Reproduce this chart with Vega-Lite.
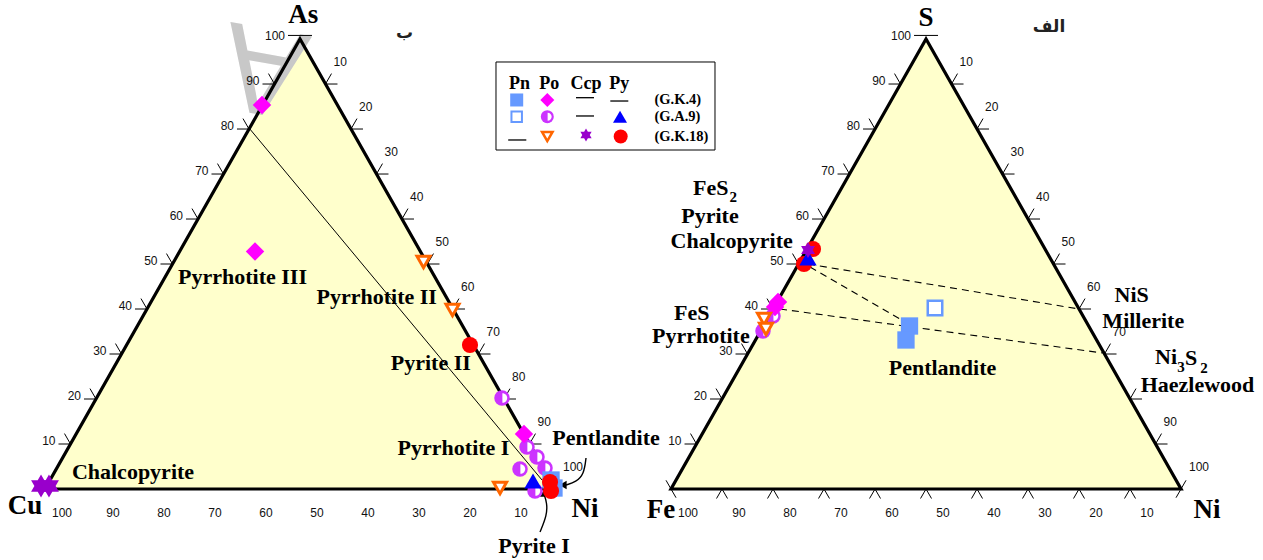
{
  "$schema": "https://vega.github.io/schema/vega-lite/v6.json",
  "width": 1263,
  "height": 560,
  "padding": 0,
  "autosize": {"type": "none"},
  "background": "#ffffff",
  "config": {"view": {"stroke": null}},
  "encoding": {
    "x": {"field": "x", "type": "quantitative", "axis": null, "scale": {"domain": [-8.8235, 238.8235], "nice": false, "zero": false}},
    "y": {"field": "y", "type": "quantitative", "axis": null, "scale": {"domain": [-13.664, 94.111], "nice": false, "zero": false}}
  },
  "datasets": {
    "triFill": [
      {"t": "L", "x": 0, "y": 0}, {"t": "L", "x": 50, "y": 86.6}, {"t": "L", "x": 100, "y": 0},
      {"t": "R", "x": 122.75, "y": 0}, {"t": "R", "x": 172.75, "y": 86.6}, {"t": "R", "x": 222.75, "y": 0}
    ],
    "triEdge": [
      {"t": "L", "o": 0, "x": 0, "y": 0}, {"t": "L", "o": 1, "x": 100, "y": 0}, {"t": "L", "o": 2, "x": 50, "y": 86.6}, {"t": "L", "o": 3, "x": 0, "y": 0}, {"t": "L", "o": 4, "x": 100, "y": 0},
      {"t": "R", "o": 0, "x": 122.75, "y": 0}, {"t": "R", "o": 1, "x": 222.75, "y": 0}, {"t": "R", "o": 2, "x": 172.75, "y": 86.6}, {"t": "R", "o": 3, "x": 122.75, "y": 0}, {"t": "R", "o": 4, "x": 222.75, "y": 0}
    ],
    "segs": [
      {"g": "m", "k": "solid", "o": 0, "x": 40.0, "y": 69.48}, {"g": "m", "k": "solid", "o": 1, "x": 97.45, "y": 1.73},
      {"g": "d1", "k": "dash", "o": 0, "x": 149.61, "y": 43.3}, {"g": "d1", "k": "dash", "o": 1, "x": 202.75, "y": 34.64},
      {"g": "d2", "k": "dash", "o": 0, "x": 150.0, "y": 42.73}, {"g": "d2", "k": "dash", "o": 1, "x": 168.63, "y": 32.14},
      {"g": "d3", "k": "dash", "o": 0, "x": 144.12, "y": 34.64}, {"g": "d3", "k": "dash", "o": 1, "x": 207.4, "y": 26.17}
    ],
    "ticks": [
      {"k": "l", "x": 5, "y": 8.66}, {"k": "l", "x": 10, "y": 17.32}, {"k": "l", "x": 15, "y": 25.98}, {"k": "l", "x": 20, "y": 34.64}, {"k": "l", "x": 25, "y": 43.3}, {"k": "l", "x": 30, "y": 51.96}, {"k": "l", "x": 35, "y": 60.62}, {"k": "l", "x": 40, "y": 69.28}, {"k": "l", "x": 45, "y": 77.94},
      {"k": "r", "x": 55, "y": 77.94}, {"k": "r", "x": 60, "y": 69.28}, {"k": "r", "x": 65, "y": 60.62}, {"k": "r", "x": 70, "y": 51.96}, {"k": "r", "x": 75, "y": 43.3}, {"k": "r", "x": 80, "y": 34.64}, {"k": "r", "x": 85, "y": 25.98}, {"k": "r", "x": 90, "y": 17.32}, {"k": "r", "x": 95, "y": 8.66},
      {"k": "l", "x": 127.75, "y": 8.66}, {"k": "l", "x": 132.75, "y": 17.32}, {"k": "l", "x": 137.75, "y": 25.98}, {"k": "l", "x": 142.75, "y": 34.64}, {"k": "l", "x": 147.75, "y": 43.3}, {"k": "l", "x": 152.75, "y": 51.96}, {"k": "l", "x": 157.75, "y": 60.62}, {"k": "l", "x": 162.75, "y": 69.28}, {"k": "l", "x": 167.75, "y": 77.94},
      {"k": "r", "x": 177.75, "y": 77.94}, {"k": "r", "x": 182.75, "y": 69.28}, {"k": "r", "x": 187.75, "y": 60.62}, {"k": "r", "x": 192.75, "y": 51.96}, {"k": "r", "x": 197.75, "y": 43.3}, {"k": "r", "x": 202.75, "y": 34.64}, {"k": "r", "x": 207.75, "y": 25.98}, {"k": "r", "x": 212.75, "y": 17.32}, {"k": "r", "x": 217.75, "y": 8.66},
      {"k": "b", "x": 132.75, "y": 0}, {"k": "b", "x": 142.75, "y": 0}, {"k": "b", "x": 152.75, "y": 0}, {"k": "b", "x": 162.75, "y": 0}, {"k": "b", "x": 172.75, "y": 0}, {"k": "b", "x": 182.75, "y": 0}, {"k": "b", "x": 192.75, "y": 0}, {"k": "b", "x": 202.75, "y": 0}, {"k": "b", "x": 212.75, "y": 0},
      {"k": "a", "x": 50, "y": 86.6}, {"k": "a", "x": 172.75, "y": 86.6},
      {"k": "c1", "x": 122.75, "y": 0}, {"k": "c2", "x": 222.75, "y": 0}
    ],
    "tlabels": [
      {"k": "l", "text": "10", "x": 5, "y": 8.66}, {"k": "l", "text": "20", "x": 10, "y": 17.32}, {"k": "l", "text": "30", "x": 15, "y": 25.98}, {"k": "l", "text": "40", "x": 20, "y": 34.64}, {"k": "l", "text": "50", "x": 25, "y": 43.3}, {"k": "l", "text": "60", "x": 30, "y": 51.96}, {"k": "l", "text": "70", "x": 35, "y": 60.62}, {"k": "l", "text": "80", "x": 40, "y": 69.28}, {"k": "l", "text": "90", "x": 45, "y": 77.94}, {"k": "l", "text": "100", "x": 50, "y": 86.6},
      {"k": "r", "text": "10", "x": 55, "y": 77.94}, {"k": "r", "text": "20", "x": 60, "y": 69.28}, {"k": "r", "text": "30", "x": 65, "y": 60.62}, {"k": "r", "text": "40", "x": 70, "y": 51.96}, {"k": "r", "text": "50", "x": 75, "y": 43.3}, {"k": "r", "text": "60", "x": 80, "y": 34.64}, {"k": "r", "text": "70", "x": 85, "y": 25.98}, {"k": "r", "text": "80", "x": 90, "y": 17.32}, {"k": "r", "text": "90", "x": 95, "y": 8.66}, {"k": "r", "text": "100", "x": 100, "y": 0},
      {"k": "b", "text": "100", "x": 0, "y": 0}, {"k": "b", "text": "90", "x": 10, "y": 0}, {"k": "b", "text": "80", "x": 20, "y": 0}, {"k": "b", "text": "70", "x": 30, "y": 0}, {"k": "b", "text": "60", "x": 40, "y": 0}, {"k": "b", "text": "50", "x": 50, "y": 0}, {"k": "b", "text": "40", "x": 60, "y": 0}, {"k": "b", "text": "30", "x": 70, "y": 0}, {"k": "b", "text": "20", "x": 80, "y": 0}, {"k": "b", "text": "10", "x": 90, "y": 0},
      {"k": "l", "text": "10", "x": 127.75, "y": 8.66}, {"k": "l", "text": "20", "x": 132.75, "y": 17.32}, {"k": "l", "text": "30", "x": 137.75, "y": 25.98}, {"k": "l", "text": "40", "x": 142.75, "y": 34.64}, {"k": "l", "text": "50", "x": 147.75, "y": 43.3}, {"k": "l", "text": "60", "x": 152.75, "y": 51.96}, {"k": "l", "text": "70", "x": 157.75, "y": 60.62}, {"k": "l", "text": "80", "x": 162.75, "y": 69.28}, {"k": "l", "text": "90", "x": 167.75, "y": 77.94}, {"k": "l", "text": "100", "x": 172.75, "y": 86.6},
      {"k": "r", "text": "10", "x": 177.75, "y": 77.94}, {"k": "r", "text": "20", "x": 182.75, "y": 69.28}, {"k": "r", "text": "30", "x": 187.75, "y": 60.62}, {"k": "r", "text": "40", "x": 192.75, "y": 51.96}, {"k": "r", "text": "50", "x": 197.75, "y": 43.3}, {"k": "r", "text": "60", "x": 202.75, "y": 34.64}, {"k": "r", "text": "70", "x": 207.75, "y": 25.98}, {"k": "r", "text": "90", "x": 217.75, "y": 8.66}, {"k": "r", "text": "100", "x": 222.75, "y": 0},
      {"k": "b", "text": "100", "x": 122.75, "y": 0}, {"k": "b", "text": "90", "x": 132.75, "y": 0}, {"k": "b", "text": "80", "x": 142.75, "y": 0}, {"k": "b", "text": "70", "x": 152.75, "y": 0}, {"k": "b", "text": "60", "x": 162.75, "y": 0}, {"k": "b", "text": "50", "x": 172.75, "y": 0}, {"k": "b", "text": "40", "x": 182.75, "y": 0}, {"k": "b", "text": "30", "x": 192.75, "y": 0}, {"k": "b", "text": "20", "x": 202.75, "y": 0}, {"k": "b", "text": "10", "x": 212.75, "y": 0}
    ],
    "arrows": [
      {"g": "a1", "o": 0, "x": 106.08, "y": 5.97}, {"g": "a1", "o": 1, "x": 105.69, "y": 2.89}, {"g": "a1", "o": 2, "x": 104.12, "y": 1.35}, {"g": "a1", "o": 3, "x": 102.16, "y": 0.77},
      {"g": "a2", "o": 0, "x": 97.06, "y": -8.28}, {"g": "a2", "o": 1, "x": 98.43, "y": -5.0}, {"g": "a2", "o": 2, "x": 98.43, "y": -2.69}, {"g": "a2", "o": 3, "x": 97.84, "y": -0.96}
    ],
    "heads": [
      {"k": "left", "x": 101.57, "y": 0.77},
      {"k": "up", "x": 97.84, "y": -0.77}
    ],
    "pts": [
      {"t": "L", "sym": "poH", "x": 89.61, "y": 17.51}, {"t": "L", "sym": "poH", "x": 94.51, "y": 8.08}, {"t": "L", "sym": "poH", "x": 96.47, "y": 6.16}, {"t": "L", "sym": "poH", "x": 93.14, "y": 3.85}, {"t": "L", "sym": "poH", "x": 98.04, "y": 4.04}, {"t": "L", "sym": "poH", "x": 96.08, "y": -0.38},
      {"t": "L", "sym": "poD", "x": 42.55, "y": 73.9}, {"t": "L", "sym": "poD", "x": 41.18, "y": 45.71}, {"t": "L", "sym": "poD", "x": 93.92, "y": 10.59},
      {"t": "L", "sym": "poT", "x": 74.22, "y": 43.69}, {"t": "L", "sym": "poT", "x": 79.9, "y": 34.45}, {"t": "L", "sym": "poT", "x": 89.22, "y": 0.19},
      {"t": "L", "sym": "pnF", "x": 99.22, "y": 1.73}, {"t": "L", "sym": "pnF", "x": 99.8, "y": 0.19},
      {"t": "L", "sym": "pyC", "x": 83.33, "y": 27.71}, {"t": "L", "sym": "pyC", "x": 99.02, "y": 1.35}, {"t": "L", "sym": "pyC", "x": 99.22, "y": -0.38},
      {"t": "L", "sym": "pyT", "x": 95.69, "y": 1.54},
      {"t": "L", "sym": "ccS", "x": -0.78, "y": 0.58}, {"t": "L", "sym": "ccS", "x": 0.78, "y": 0.58},
      {"t": "R", "sym": "poH", "x": 142.75, "y": 33.29}, {"t": "R", "sym": "poH", "x": 140.78, "y": 30.41},
      {"t": "R", "sym": "poD", "x": 143.73, "y": 35.99}, {"t": "R", "sym": "poD", "x": 143.14, "y": 35.03},
      {"t": "R", "sym": "poT", "x": 140.98, "y": 32.72}, {"t": "R", "sym": "poT", "x": 141.37, "y": 30.79},
      {"t": "R", "sym": "pnF", "x": 169.51, "y": 31.37}, {"t": "R", "sym": "pnF", "x": 168.82, "y": 28.68},
      {"t": "R", "sym": "pnO", "x": 174.51, "y": 34.83},
      {"t": "R", "sym": "pyC", "x": 150.59, "y": 46.19}, {"t": "R", "sym": "pyC", "x": 148.82, "y": 43.3},
      {"t": "R", "sym": "pyT", "x": 149.61, "y": 44.46},
      {"t": "R", "sym": "ccS", "x": 149.61, "y": 46.0}
    ],
    "legBox": [{"x": 88.43, "x2": 131.37, "y": 82.18, "y2": 65.24}],
    "legText": [
      {"k": "h", "text": "Pn", "x": 93.04, "y": 77.94}, {"k": "h", "text": "Po", "x": 98.88, "y": 77.94}, {"k": "h", "text": "Ccp", "x": 106.08, "y": 77.94}, {"k": "h", "text": "Py", "x": 112.61, "y": 77.94},
      {"k": "s", "text": "(G.K.4)", "x": 119.5, "y": 74.87}, {"k": "s", "text": "(G.A.9)", "x": 119.5, "y": 71.65}, {"k": "s", "text": "(G.K.18)", "x": 119.5, "y": 67.84}
    ],
    "leg": [
      {"sym": "pnF", "x": 92.49, "y": 74.87}, {"sym": "poD", "x": 98.49, "y": 74.87}, {"sym": "dash", "x": 105.88, "y": 75.31}, {"sym": "dash", "x": 112.61, "y": 74.67},
      {"sym": "pnO", "x": 92.49, "y": 71.65}, {"sym": "poH", "x": 98.49, "y": 71.65}, {"sym": "dash", "x": 105.88, "y": 71.79}, {"sym": "pyT", "x": 112.75, "y": 71.65},
      {"sym": "dash", "x": 92.61, "y": 67.17}, {"sym": "poT", "x": 98.49, "y": 67.84}, {"sym": "ccS", "x": 106.08, "y": 68.13}, {"sym": "pyC", "x": 112.88, "y": 67.84}
    ],
    "names": [
      {"k": "big", "text": "As", "x": 50.65, "y": 91.2},
      {"k": "big", "text": "S", "x": 172.75, "y": 90.65},
      {"k": "big", "text": "Cu", "x": -3.92, "y": -3.27},
      {"k": "big", "text": "Ni", "x": 105.88, "y": -3.85},
      {"k": "big", "text": "Fe", "x": 120.78, "y": -4.04},
      {"k": "big", "text": "Ni", "x": 227.84, "y": -4.04},
      {"k": "mid", "text": "Chalcopyrite", "x": 17.25, "y": 3.33},
      {"k": "mid", "text": "Pyrrhotite III", "x": 38.73, "y": 40.86},
      {"k": "mid", "text": "Pyrrhotite II", "x": 65.04, "y": 37.01},
      {"k": "mid", "text": "Pyrite II", "x": 75.65, "y": 24.31},
      {"k": "mid", "text": "Pyrrhotite I", "x": 80.1, "y": 7.83},
      {"k": "mid", "text": "Pentlandite", "x": 110.0, "y": 9.76},
      {"k": "mid", "text": "Pyrite I", "x": 95.88, "y": -11.0},
      {"k": "mid", "text": "FeS", "x": 130.55, "y": 57.87},
      {"k": "mid", "text": "Pyrite", "x": 130.39, "y": 52.6},
      {"k": "mid", "text": "Chalcopyrite", "x": 134.65, "y": 47.79},
      {"k": "mid", "text": "FeS", "x": 126.8, "y": 33.93},
      {"k": "mid", "text": "Pyrrhotite", "x": 128.59, "y": 29.5},
      {"k": "mid", "text": "NiS", "x": 213.08, "y": 37.34},
      {"k": "mid", "text": "Millerite", "x": 215.35, "y": 32.4},
      {"k": "mid", "text": "Haezlewood", "x": 225.98, "y": 20.02},
      {"k": "mid", "text": "Pentlandite", "x": 175.98, "y": 23.23},
      {"k": "midL", "text": "Ni", "x": 217.65, "y": 25.35},
      {"k": "midL", "text": "S", "x": 223.53, "y": 25.19},
      {"k": "sub", "text": "2", "x": 134.96, "y": 56.15},
      {"k": "sub", "text": "3", "x": 222.75, "y": 23.54},
      {"k": "sub", "text": "2", "x": 227.25, "y": 23.21},
      {"k": "ar", "text": "ب", "x": 70.5, "y": 87.8},
      {"k": "ar", "text": "الف", "x": 196.86, "y": 88.91}
    ],
    "wm": [{"text": "A", "x": 44.37, "y": 88.47}]
  },
  "layer": [
    {"data": {"name": "triFill"}, "mark": {"type": "area", "fill": "#FFFFCC", "opacity": 1}, "encoding": {"y2": {"datum": 0}, "detail": {"field": "t"}}},
    {"data": {"name": "wm"}, "mark": {"type": "text", "font": "Liberation Sans", "fontSize": 125, "fill": "#C8C8C8", "angle": 190, "align": "center", "baseline": "alphabetic"}, "encoding": {"text": {"field": "text"}}},
    {"data": {"name": "triEdge"}, "mark": {"type": "line", "stroke": "#000000", "strokeWidth": 3.2, "strokeJoin": "miter"}, "encoding": {"detail": {"field": "t"}, "order": {"field": "o"}}},
    {"data": {"name": "segs"}, "transform": [{"filter": "datum.k === 'solid'"}], "mark": {"type": "line", "stroke": "#000000", "strokeWidth": 1}, "encoding": {"detail": {"field": "g"}, "order": {"field": "o"}}},
    {"data": {"name": "segs"}, "transform": [{"filter": "datum.k === 'dash'"}], "mark": {"type": "line", "stroke": "#000000", "strokeWidth": 1.1, "strokeDash": [7, 5]}, "encoding": {"detail": {"field": "g"}, "order": {"field": "o"}}},
    {"data": {"name": "ticks"}, "transform": [{"filter": "datum.k === 'l'"}], "mark": {"type": "point", "shape": "M0,0L-1,0M0,0L-0.5,-0.87", "size": 576, "filled": false, "stroke": "#000000", "strokeWidth": 1, "opacity": 1}},
    {"data": {"name": "ticks"}, "transform": [{"filter": "datum.k === 'r'"}], "mark": {"type": "point", "shape": "M0,0L1,0M0,0L0.5,-0.87", "size": 576, "filled": false, "stroke": "#000000", "strokeWidth": 1, "opacity": 1}},
    {"data": {"name": "ticks"}, "transform": [{"filter": "datum.k === 'b'"}], "mark": {"type": "point", "shape": "M-0.55,0.95L0,0L0.55,0.95", "size": 400, "filled": false, "stroke": "#000000", "strokeWidth": 1, "opacity": 1}},
    {"data": {"name": "ticks"}, "transform": [{"filter": "datum.k === 'a'"}], "mark": {"type": "point", "shape": "M-1,-0.3L1,-0.3", "size": 576, "filled": false, "stroke": "#000000", "strokeWidth": 1, "opacity": 1}},
    {"data": {"name": "ticks"}, "transform": [{"filter": "datum.k === 'c1'"}], "mark": {"type": "point", "shape": "M-0.5,-0.87L0.5,0.87", "size": 400, "filled": false, "stroke": "#000000", "strokeWidth": 1, "opacity": 1}},
    {"data": {"name": "ticks"}, "transform": [{"filter": "datum.k === 'c2'"}], "mark": {"type": "point", "shape": "M0.5,-0.87L-0.5,0.87", "size": 400, "filled": false, "stroke": "#000000", "strokeWidth": 1, "opacity": 1}},
    {"data": {"name": "tlabels"}, "transform": [{"filter": "datum.k === 'l'"}], "mark": {"type": "text", "font": "Liberation Sans", "fontSize": 12, "fill": "#111111", "align": "right", "baseline": "middle", "dx": -15, "dy": -3}, "encoding": {"text": {"field": "text"}}},
    {"data": {"name": "tlabels"}, "transform": [{"filter": "datum.k === 'r'"}], "mark": {"type": "text", "font": "Liberation Sans", "fontSize": 12, "fill": "#111111", "align": "left", "baseline": "middle", "dx": 8, "dy": -22}, "encoding": {"text": {"field": "text"}}},
    {"data": {"name": "tlabels"}, "transform": [{"filter": "datum.k === 'b'"}], "mark": {"type": "text", "font": "Liberation Sans", "fontSize": 12, "fill": "#111111", "align": "center", "baseline": "middle", "dx": 17, "dy": 24}, "encoding": {"text": {"field": "text"}}},
    {"data": {"name": "arrows"}, "mark": {"type": "line", "stroke": "#000000", "strokeWidth": 1.4, "interpolate": "basis"}, "encoding": {"detail": {"field": "g"}, "order": {"field": "o"}}},
    {"data": {"name": "heads"}, "transform": [{"filter": "datum.k === 'left'"}], "mark": {"type": "point", "shape": "triangle-left", "size": 70, "filled": true, "fill": "#000000", "opacity": 1}},
    {"data": {"name": "heads"}, "transform": [{"filter": "datum.k === 'up'"}], "mark": {"type": "point", "shape": "triangle-up", "size": 70, "filled": true, "fill": "#000000", "opacity": 1}},
    {"data": {"name": "pts"}, "transform": [{"filter": "datum.sym === 'poH'"}], "mark": {"type": "point", "shape": "circle", "size": 240, "filled": true, "fill": "#CC33FF", "strokeWidth": 0, "opacity": 1}},
    {"data": {"name": "pts"}, "transform": [{"filter": "datum.sym === 'poH'"}], "mark": {"type": "point", "shape": "M0.05,-0.62A0.62,0.62 0 0 1 0.05,0.62Z", "size": 240, "filled": true, "fill": "#FFFFFF", "strokeWidth": 0, "opacity": 1}},
    {"data": {"name": "pts"}, "transform": [{"filter": "datum.sym === 'poD'"}], "mark": {"type": "point", "shape": "diamond", "size": 340, "filled": true, "fill": "#FF00FF", "strokeWidth": 0, "opacity": 1}},
    {"data": {"name": "pts"}, "transform": [{"filter": "datum.sym === 'poT'"}], "mark": {"type": "point", "shape": "triangle-down", "size": 170, "filled": true, "fill": "#FFFFFF", "stroke": "#FF6600", "strokeWidth": 3, "opacity": 1}},
    {"data": {"name": "pts"}, "transform": [{"filter": "datum.sym === 'pnF'"}], "mark": {"type": "point", "shape": "square", "size": 300, "filled": true, "fill": "#6699FF", "strokeWidth": 0, "opacity": 1}},
    {"data": {"name": "pts"}, "transform": [{"filter": "datum.sym === 'pnO'"}], "mark": {"type": "point", "shape": "square", "size": 210, "filled": true, "fill": "#FFFFFF", "stroke": "#6699FF", "strokeWidth": 2.5, "opacity": 1}},
    {"data": {"name": "pts"}, "transform": [{"filter": "datum.sym === 'pyC'"}], "mark": {"type": "point", "shape": "circle", "size": 260, "filled": true, "fill": "#FF0000", "strokeWidth": 0, "opacity": 1}},
    {"data": {"name": "pts"}, "transform": [{"filter": "datum.sym === 'pyT'"}], "mark": {"type": "point", "shape": "triangle-up", "size": 300, "filled": true, "fill": "#0000FF", "strokeWidth": 0, "opacity": 1}},
    {"data": {"name": "pts"}, "transform": [{"filter": "datum.sym === 'ccS' && datum.t === 'L'"}], "mark": {"type": "point", "shape": "M0,-1L0.866,0.5L-0.866,0.5ZM0,1L-0.866,-0.5L0.866,-0.5Z", "size": 529, "filled": true, "fill": "#9900CC", "strokeWidth": 0, "opacity": 1}},
    {"data": {"name": "pts"}, "transform": [{"filter": "datum.sym === 'ccS' && datum.t === 'R'"}], "mark": {"type": "point", "shape": "M0,-1L0.866,0.5L-0.866,0.5ZM0,1L-0.866,-0.5L0.866,-0.5Z", "size": 256, "filled": true, "fill": "#9900CC", "strokeWidth": 0, "opacity": 1}},
    {"data": {"name": "legBox"}, "mark": {"type": "rect", "fill": "#FFFFFF", "stroke": "#000000", "strokeWidth": 1}, "encoding": {"x2": {"field": "x2"}, "y2": {"field": "y2"}}},
    {"data": {"name": "legText"}, "transform": [{"filter": "datum.k === 'h'"}], "mark": {"type": "text", "font": "Liberation Serif", "fontWeight": "bold", "fontSize": 18, "fill": "#000000", "align": "center", "baseline": "middle"}, "encoding": {"text": {"field": "text"}}},
    {"data": {"name": "legText"}, "transform": [{"filter": "datum.k === 's'"}], "mark": {"type": "text", "font": "Liberation Serif", "fontWeight": "bold", "fontSize": 14.5, "fill": "#000000", "align": "left", "baseline": "middle"}, "encoding": {"text": {"field": "text"}}},
    {"data": {"name": "leg"}, "transform": [{"filter": "datum.sym === 'dash'"}], "mark": {"type": "point", "shape": "M-1,0L1,0", "size": 324, "filled": false, "stroke": "#000000", "strokeWidth": 1.3, "opacity": 1}},
    {"data": {"name": "leg"}, "transform": [{"filter": "datum.sym === 'pnF'"}], "mark": {"type": "point", "shape": "square", "size": 169, "filled": true, "fill": "#6699FF", "strokeWidth": 0, "opacity": 1}},
    {"data": {"name": "leg"}, "transform": [{"filter": "datum.sym === 'pnO'"}], "mark": {"type": "point", "shape": "square", "size": 110, "filled": true, "fill": "#FFFFFF", "stroke": "#6699FF", "strokeWidth": 2, "opacity": 1}},
    {"data": {"name": "leg"}, "transform": [{"filter": "datum.sym === 'poD'"}], "mark": {"type": "point", "shape": "diamond", "size": 196, "filled": true, "fill": "#FF00FF", "strokeWidth": 0, "opacity": 1}},
    {"data": {"name": "leg"}, "transform": [{"filter": "datum.sym === 'poH'"}], "mark": {"type": "point", "shape": "circle", "size": 169, "filled": true, "fill": "#CC33FF", "strokeWidth": 0, "opacity": 1}},
    {"data": {"name": "leg"}, "transform": [{"filter": "datum.sym === 'poH'"}], "mark": {"type": "point", "shape": "M0.05,-0.62A0.62,0.62 0 0 1 0.05,0.62Z", "size": 169, "filled": true, "fill": "#FFFFFF", "strokeWidth": 0, "opacity": 1}},
    {"data": {"name": "leg"}, "transform": [{"filter": "datum.sym === 'poT'"}], "mark": {"type": "point", "shape": "triangle-down", "size": 110, "filled": true, "fill": "#FFFFFF", "stroke": "#FF6600", "strokeWidth": 2.5, "opacity": 1}},
    {"data": {"name": "leg"}, "transform": [{"filter": "datum.sym === 'ccS'"}], "mark": {"type": "point", "shape": "M0,-1L0.866,0.5L-0.866,0.5ZM0,1L-0.866,-0.5L0.866,-0.5Z", "size": 169, "filled": true, "fill": "#9900CC", "strokeWidth": 0, "opacity": 1}},
    {"data": {"name": "leg"}, "transform": [{"filter": "datum.sym === 'pyC'"}], "mark": {"type": "point", "shape": "circle", "size": 196, "filled": true, "fill": "#FF0000", "strokeWidth": 0, "opacity": 1}},
    {"data": {"name": "leg"}, "transform": [{"filter": "datum.sym === 'pyT'"}], "mark": {"type": "point", "shape": "triangle-up", "size": 196, "filled": true, "fill": "#0000FF", "strokeWidth": 0, "opacity": 1}},
    {"data": {"name": "names"}, "transform": [{"filter": "datum.k === 'big'"}], "mark": {"type": "text", "font": "Liberation Serif", "fontWeight": "bold", "fontSize": 27, "fill": "#000000", "align": "center", "baseline": "middle"}, "encoding": {"text": {"field": "text"}}},
    {"data": {"name": "names"}, "transform": [{"filter": "datum.k === 'mid'"}], "mark": {"type": "text", "font": "Liberation Serif", "fontWeight": "bold", "fontSize": 22, "fill": "#000000", "align": "center", "baseline": "middle"}, "encoding": {"text": {"field": "text"}}},
    {"data": {"name": "names"}, "transform": [{"filter": "datum.k === 'midL'"}], "mark": {"type": "text", "font": "Liberation Serif", "fontWeight": "bold", "fontSize": 22, "fill": "#000000", "align": "left", "baseline": "middle"}, "encoding": {"text": {"field": "text"}}},
    {"data": {"name": "names"}, "transform": [{"filter": "datum.k === 'sub'"}], "mark": {"type": "text", "font": "Liberation Serif", "fontWeight": "bold", "fontSize": 15, "fill": "#000000", "align": "center", "baseline": "middle"}, "encoding": {"text": {"field": "text"}}},
    {"data": {"name": "names"}, "transform": [{"filter": "datum.k === 'ar'"}], "mark": {"type": "text", "font": "DejaVu Sans", "fontWeight": "bold", "fontSize": 17, "fill": "#222222", "align": "center", "baseline": "middle"}, "encoding": {"text": {"field": "text"}}}
  ]
}
